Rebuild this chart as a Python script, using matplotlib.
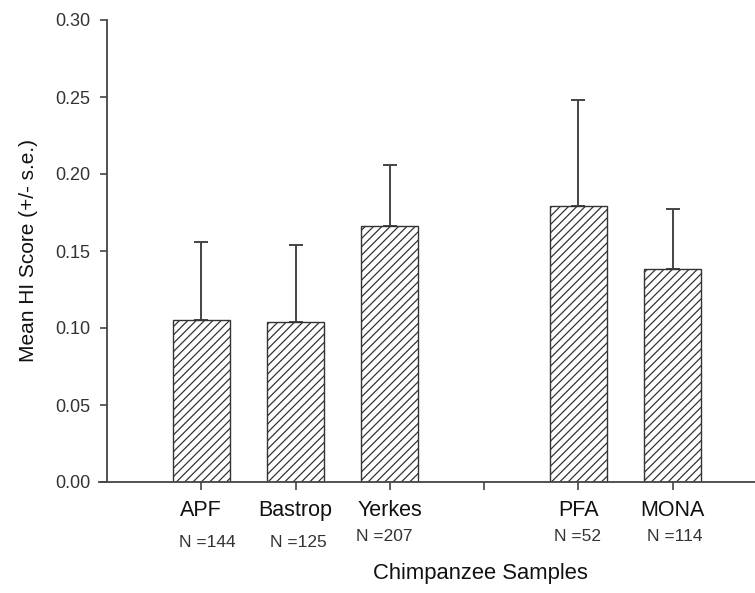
import matplotlib.pyplot as plt
from matplotlib.transforms import blended_transform_factory

plt.rcParams['font.family'] = ['Liberation Sans', 'DejaVu Sans']
plt.rcParams['hatch.linewidth'] = 0.9
plt.rcParams['hatch.color'] = '#333333'

# data
groups = ['APF', 'Bastrop', 'Yerkes', 'PFA', 'MONA']
slots = [1, 2, 3, 5, 6]          # slot 4 is the empty gap
n_labels = ['N =144', 'N =125', 'N =207', 'N =52', 'N =114']
means = [0.105, 0.104, 0.166, 0.179, 0.138]
se = [0.051, 0.050, 0.040, 0.069, 0.039]
y_ticks = [0.00, 0.05, 0.10, 0.15, 0.20, 0.25, 0.30]

fig = plt.figure(figsize=(7.55, 5.93), dpi=100)
ax = fig.add_axes([107 / 755, 1 - 482 / 593, 1 - 107 / 755, 462 / 593])

ax.bar(slots, means, width=0.6, color='white', edgecolor='#333333',
       linewidth=1.0, hatch='////', zorder=2)
ax.errorbar(slots, means, yerr=[[0] * len(se), se], fmt='none',
            ecolor='#444444', elinewidth=1.4, capsize=4.7, capthick=1.4,
            zorder=1)

ax.set_xlim(0, 6.875)
ax.set_ylim(0, 0.30)
ax.set_yticks(y_ticks)
ax.set_yticklabels(['%.2f' % v for v in y_ticks])
ax.set_xticks([1, 2, 3, 4, 5, 6])
ax.set_xticklabels([])

for side in ['top', 'right']:
    ax.spines[side].set_visible(False)
for side in ['left', 'bottom']:
    ax.spines[side].set_color('#444444')
    ax.spines[side].set_linewidth(1.3)
ax.spines['bottom'].set_bounds(-0.09, 6.875)

ax.tick_params(axis='y', direction='out', length=5, width=1.2,
               color='#444444', labelsize=13, labelcolor='#333333', pad=7)
ax.tick_params(axis='x', direction='out', length=6, width=1.2,
               color='#444444')

trans = blended_transform_factory(ax.transData, ax.transAxes)
n_y = [-0.132, -0.132, -0.119, -0.119, -0.119]
n_dx = [0.06, 0.03, -0.06, -0.01, 0.02]
for i, g in enumerate(groups):
    ax.text(slots[i], -0.062, g, transform=trans, ha='center', va='center',
            fontsize=15.5, color='#111111')
    ax.text(slots[i] + n_dx[i], n_y[i], n_labels[i], transform=trans,
            ha='center', va='center', fontsize=12.5, color='#333333')

ax.text(3.96, -0.197, 'Chimpanzee Samples', transform=trans, ha='center',
        va='center', fontsize=15.8, color='#111111')
fig.text(28 / 755, 1 - 251 / 593, 'Mean HI Score (+/- s.e.)', rotation=90,
         ha='center', va='center', fontsize=15, color='#111111')

fig.savefig('out.png', dpi=100)
